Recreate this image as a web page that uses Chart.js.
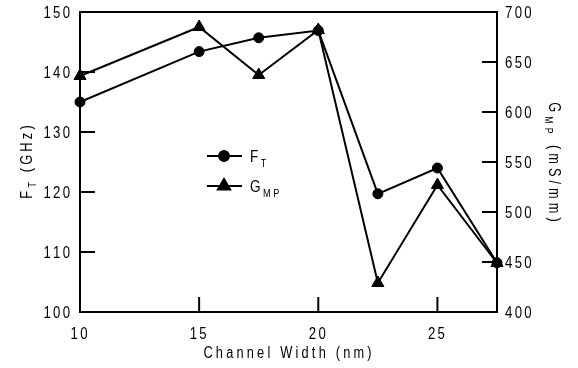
<!DOCTYPE html>
<html>
<head>
<meta charset="utf-8">
<script src="https://cdn.jsdelivr.net/npm/chart.js@4.4.1/dist/chart.umd.min.js"></script>
<style>
  html, body { margin: 0; padding: 0; background: #fff; }
  canvas { display: block; }
</style>
</head>
<body>
<canvas id="chart" width="578" height="368"></canvas>
<script>
// Channel width sweep (nm)
const channelWidths = [10, 15, 17.5, 20, 22.5, 25, 27.5];
// Cut-off frequency F_T (GHz), left axis
const ftValues = [135, 143.4, 145.7, 146.9, 119.7, 124, 108.2];
// Peak transconductance G_MP (mS/mm), right axis
const gmpValues = [636, 685, 637, 682, 429, 527, 449];

// Tick labels
const xTickValues = [10, 15, 20, 25];
const ftTickValues = [100, 110, 120, 130, 140, 150];
const gmpTickValues = [400, 450, 500, 550, 600, 650, 700];

const FONT = '"Liberation Sans", Arial, sans-serif';
const INK = '#000';

// Draws a sequence of text runs (for subscripts) with horizontal squeeze and letter spacing
function drawRuns(ctx, runs, x, y, opt) {
  const sx = opt.sx || 0.8;
  const sp = opt.spacing || 0;
  const chars = [];
  runs.forEach(r => {
    for (const ch of r.t) chars.push({ ch, size: r.size, dy: r.dy || 0 });
  });
  let total = 0;
  chars.forEach((c, i) => {
    ctx.font = c.size + 'px ' + FONT;
    c.w = ctx.measureText(c.ch).width * sx;
    total += c.w + (i < chars.length - 1 ? sp : 0);
  });
  ctx.save();
  ctx.translate(x, y);
  if (opt.rotate) ctx.rotate(opt.rotate);
  let cx = opt.align === 'center' ? -total / 2 : opt.align === 'right' ? -total : 0;
  ctx.fillStyle = INK;
  ctx.textBaseline = 'alphabetic';
  ctx.textAlign = 'left';
  chars.forEach(c => {
    ctx.font = c.size + 'px ' + FONT;
    ctx.save();
    ctx.translate(cx, c.dy);
    ctx.scale(sx, 1);
    ctx.fillText(c.ch, 0, 0);
    ctx.restore();
    cx += c.w + sp;
  });
  ctx.restore();
}

const TICK_SIZE = 16.5;
const TICK_SX = 0.8;
const TICK_SP = 2.3;

const framePlugin = {
  id: 'frameAndAxes',
  beforeDatasetsDraw(chart) {
    const { ctx, chartArea: a, scales } = chart;
    ctx.save();
    ctx.strokeStyle = INK;
    ctx.lineWidth = 2;
    ctx.strokeRect(a.left, a.top, a.right - a.left, a.bottom - a.top);
    const len = 15;
    ctx.beginPath();
    xTickValues.forEach(v => {
      const px = scales.x.getPixelForValue(v);
      if (px > a.left + 1 && px < a.right - 1) {
        ctx.moveTo(px, a.bottom); ctx.lineTo(px, a.bottom - len);
      }
    });
    ftTickValues.forEach(v => {
      const py = scales.y.getPixelForValue(v);
      if (py > a.top + 1 && py < a.bottom - 1) {
        ctx.moveTo(a.left, py); ctx.lineTo(a.left + len, py);
      }
    });
    gmpTickValues.forEach(v => {
      const py = scales.y2.getPixelForValue(v);
      if (py > a.top + 1 && py < a.bottom - 1) {
        ctx.moveTo(a.right, py); ctx.lineTo(a.right - len, py);
      }
    });
    ctx.stroke();
    ctx.restore();
  },
  afterDraw(chart) {
    const { ctx, chartArea: a, scales } = chart;
    const capHalf = TICK_SIZE * 0.716 / 2;
    const tickOpt = { sx: TICK_SX, spacing: TICK_SP };
    ftTickValues.forEach(v => {
      drawRuns(ctx, [{ t: String(v), size: TICK_SIZE }], a.left - 10, scales.y.getPixelForValue(v) + capHalf,
        Object.assign({ align: 'right' }, tickOpt));
    });
    gmpTickValues.forEach(v => {
      drawRuns(ctx, [{ t: String(v), size: TICK_SIZE }], a.right + 8, scales.y2.getPixelForValue(v) + capHalf,
        Object.assign({ align: 'left' }, tickOpt));
    });
    xTickValues.forEach(v => {
      drawRuns(ctx, [{ t: String(v), size: TICK_SIZE }], scales.x.getPixelForValue(v) - 1, a.bottom + 27,
        Object.assign({ align: 'center' }, tickOpt));
    });

    const titleOpt = { sx: 0.8, spacing: 3.2 };
    // Axis titles
    drawRuns(ctx, [{ t: 'Channel Width (nm)', size: 16 }], (a.left + a.right) / 2 - 1, a.bottom + 46,
      Object.assign({ align: 'center' }, titleOpt));
    drawRuns(ctx, [{ t: 'F', size: 16 }, { t: 'T', size: 11, dy: 4 }, { t: ' (GHz)', size: 16 }],
      32, (a.top + a.bottom) / 2, Object.assign({ align: 'center', rotate: -Math.PI / 2 }, titleOpt));
    drawRuns(ctx, [{ t: 'G', size: 16 }, { t: 'MP', size: 11, dy: 4 }, { t: ' (mS/mm)', size: 16 }],
      549, (a.top + a.bottom) / 2, Object.assign({ align: 'center', rotate: Math.PI / 2, sx: 0.8, spacing: 4 }));

    // Legend
    const lx0 = 207, lx1 = 242, lmx = 224;
    const rows = [
      { y: 156, style: 'circle', runs: [{ t: 'F', size: 17 }, { t: 'T', size: 11.5, dy: 5 }] },
      { y: 186, style: 'triangle', runs: [{ t: 'G', size: 17 }, { t: 'MP', size: 11.5, dy: 5 }] }
    ];
    rows.forEach(r => {
      ctx.save();
      ctx.strokeStyle = INK;
      ctx.lineWidth = 2;
      ctx.beginPath();
      ctx.moveTo(lx0, r.y); ctx.lineTo(lx1, r.y);
      ctx.stroke();
      ctx.fillStyle = INK;
      Chart.helpers.drawPoint(ctx, { pointStyle: r.style, radius: r.style === 'circle' ? 5 : 7, rotation: 0, borderWidth: 1 }, lmx, r.y);
      ctx.restore();
      drawRuns(ctx, r.runs, 250, r.y + 6, { align: 'left', sx: 0.8, spacing: 2.5 });
    });
  }
};

new Chart(document.getElementById('chart'), {
  type: 'line',
  data: {
    labels: channelWidths,
    datasets: [
      {
        label: 'F_T',
        data: channelWidths.map((w, i) => ({ x: w, y: ftValues[i] })),
        yAxisID: 'y',
        borderColor: INK,
        backgroundColor: INK,
        borderWidth: 2,
        pointStyle: 'circle',
        pointRadius: 5,
        pointBackgroundColor: INK,
        pointBorderColor: INK,
        pointBorderWidth: 1,
        tension: 0,
        clip: false
      },
      {
        label: 'G_MP',
        data: channelWidths.map((w, i) => ({ x: w, y: gmpValues[i] })),
        yAxisID: 'y2',
        borderColor: INK,
        backgroundColor: INK,
        borderWidth: 2,
        pointStyle: 'triangle',
        pointRadius: 7,
        pointBackgroundColor: INK,
        pointBorderColor: INK,
        pointBorderWidth: 1,
        tension: 0,
        clip: false
      }
    ]
  },
  options: {
    responsive: false,
    animation: false,
    devicePixelRatio: 1,
    layout: { padding: { left: 80, right: 81, top: 12, bottom: 56 } },
    plugins: { legend: { display: false }, tooltip: { enabled: false } },
    scales: {
      x: { type: 'linear', min: 10, max: 27.5, display: false },
      y: { type: 'linear', min: 100, max: 150, display: false },
      y2: { type: 'linear', min: 400, max: 700, display: false, position: 'right' }
    }
  },
  plugins: [framePlugin]
});
</script>
</body>
</html>
